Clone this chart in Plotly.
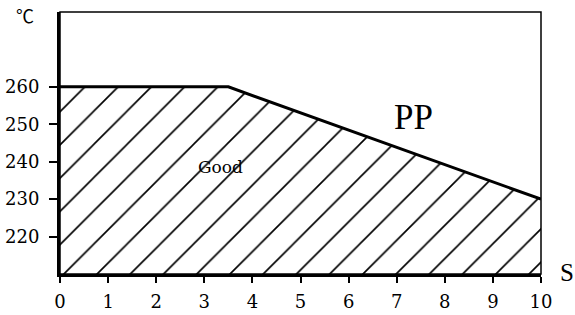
import plotly.graph_objects as go

# Data
time_s = [0, 3.5, 10]
temp_c = [260, 260, 230]
x_ticks = [0, 1, 2, 3, 4, 5, 6, 7, 8, 9, 10]
y_ticks = [220, 230, 240, 250, 260]
region_label = "Good"
region_label_pos = (3.33, 238.7)
material_label = "PP"
material_label_pos = (7.34, 251.7)

fig = go.Figure()
fig.add_trace(go.Scatter(
    x=time_s, y=temp_c, mode="lines",
    line=dict(color="black", width=3),
    fill="tozeroy",
    fillcolor="white",
    fillpattern=dict(shape="/", size=23.5, solidity=0.07, fillmode="replace",
                     fgcolor="black", fgopacity=1, bgcolor="white"),
    showlegend=False, hoverinfo="skip",
))

tick_font = dict(family="DejaVu Serif", size=18, color="black")

fig.update_layout(
    width=575, height=315,
    margin=dict(l=60, r=34, t=12, b=41),
    paper_bgcolor="white", plot_bgcolor="white",
    xaxis=dict(range=[0, 10], tickvals=x_ticks, ticks="outside", ticklen=6,
               tickwidth=2, tickcolor="black", showgrid=False, zeroline=False,
               showline=True, linewidth=3, linecolor="black", automargin=False,
               tickfont=tick_font, ticklabelstandoff=3),
    yaxis=dict(range=[210, 280], tickvals=y_ticks, ticks="outside", ticklen=8,
               tickwidth=2, tickcolor="black", showgrid=False, zeroline=False,
               showline=True, linewidth=3, linecolor="black", automargin=False,
               tickfont=tick_font, ticklabelstandoff=6),
    shapes=[dict(type="rect", xref="paper", yref="paper", x0=0, x1=1, y0=0, y1=1,
                 line=dict(color="black", width=1.5), layer="above")],
    annotations=[
        dict(x=region_label_pos[0], y=region_label_pos[1], text=region_label,
             showarrow=False,
             font=dict(family="DejaVu Serif", size=17, color="black")),
        dict(x=material_label_pos[0], y=material_label_pos[1], text=material_label,
             showarrow=False, font=dict(family="Liberation Serif", size=35, color="black")),
        dict(x=-0.073, y=0.989, xref="paper", yref="paper", text="℃", showarrow=False,
             xanchor="center", yanchor="middle",
             font=dict(family="Noto Sans CJK SC", size=18, color="black")),
        dict(x=1.035, y=0.004, xref="paper", yref="paper", text="S", showarrow=False,
             xanchor="left", yanchor="middle",
             font=dict(family="Liberation Serif", size=25, color="black")),
    ],
)

fig.write_html("out.html", config={"displayModeBar": False},
               post_script="document.body.style.margin='0';document.body.style.overflow='hidden';")
